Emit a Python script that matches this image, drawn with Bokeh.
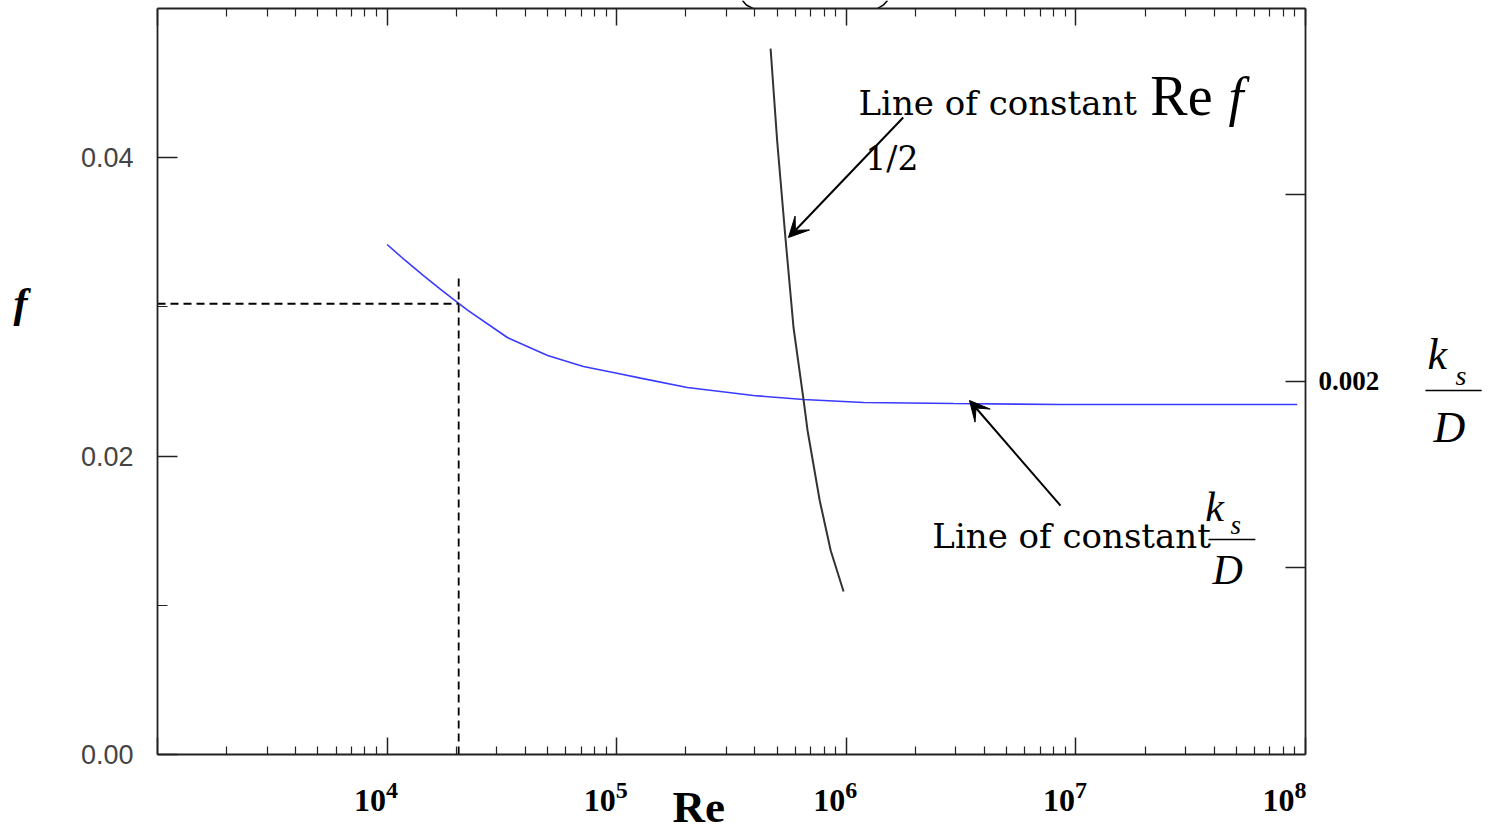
import numpy as np
from bokeh.plotting import figure
from bokeh.models import (Range1d, LogAxis, LinearAxis, FixedTicker, Label, Arrow,
                          VeeHead, CustomJSTickFormatter, NumeralTickFormatter)
from bokeh.embed import file_html
from bokeh.resources import INLINE

# ---- data ----
re_rough = [1.0e4, 1.20e4, 1.44e4, 1.71e4, 2.05e4, 2.24e4, 3.34e4, 5.0e4, 7.16e4, 1.04e5,
            1.27e5, 2.03e5, 3.94e5, 6.51e5, 1.19e6, 2.93e6, 8.6e6, 9.2e7]
f_rough = [0.03417, 0.03310, 0.03209, 0.03116, 0.03022, 0.02978, 0.02794, 0.02673, 0.02600,
           0.02550, 0.02522, 0.02459, 0.02405, 0.02379, 0.02359, 0.02352, 0.02345, 0.02345]

re_const = [4.68e5, 5.0e5, 5.43e5, 5.89e5, 6.51e5, 6.78e5, 7.66e5, 8.55e5, 9.73e5]
f_const = [0.0473, 0.0411, 0.03464, 0.02861, 0.02379, 0.02171, 0.01702, 0.01367, 0.01092]

re_guide = 2.05e4
f_guide = 0.0302
f_guide_top = 0.032

# clipped bracket fragments above the plot box
bracket_left_re = [3.53e5, 3.67e5, 3.94e5]
bracket_right_re = [1.511e6, 1.452e6, 1.367e6]
bracket_f = [0.05052, 0.05022, 0.04998]

x_major = [1e3, 1e4, 1e5, 1e6, 1e7, 1e8]
x_minor = [m * 10 ** e for e in range(3, 8) for m in range(2, 10)]
x_exponents = ["4", "5", "6", "7", "8"]
y_major = [0.0, 0.02, 0.04]
y_minor = [0.01, 0.03]
right_ticks = [0.0125, 0.025, 0.0375]
right_label = "0.002"

RE_MIN, RE_MAX = 1e3, 1e8
F_MIN, F_MAX = 0.0, 0.05

# ---- figure: frame spans the whole canvas; the plot box is drawn by fixed axes ----
p = figure(width=1488, height=840, x_axis_type="log",
           x_range=Range1d(207.1, 6.267e8), y_range=Range1d(-0.005762, 0.05052),
           output_backend="svg", toolbar_location=None,
           min_border_left=0, min_border_right=0,
           min_border_top=0, min_border_bottom=0)
p.xgrid.visible = False
p.ygrid.visible = False
p.outline_line_color = None
p.background_fill_color = "white"
p.border_fill_color = "white"

AX = "#222222"


def style_axis(ax, major_in, minor_in):
    ax.axis_line_color = AX
    ax.axis_line_width = 1.8
    ax.major_tick_line_color = AX
    ax.major_tick_line_width = 1.5
    ax.minor_tick_line_color = AX
    ax.minor_tick_line_width = 1.2
    ax.major_tick_in = major_in
    ax.major_tick_out = 0
    ax.minor_tick_in = minor_in
    ax.minor_tick_out = 0


# bottom axis
xb = p.xaxis[0]
xb.ticker = FixedTicker(ticks=x_major, minor_ticks=x_minor)
xb.formatter = CustomJSTickFormatter(code="return '';")
xb.fixed_location = F_MIN
xb.bounds = (RE_MIN, RE_MAX)
style_axis(xb, 17, 8)
xb.major_label_text_font_size = "1px"
xb.major_label_standoff = 0

# top axis
xt = LogAxis(ticker=FixedTicker(ticks=x_major, minor_ticks=x_minor),
             formatter=CustomJSTickFormatter(code="return '';"),
             fixed_location=F_MAX, bounds=(RE_MIN, RE_MAX))
style_axis(xt, 17, 8)
xt.major_label_text_font_size = "1px"
xt.major_label_standoff = 0
p.add_layout(xt, "above")

# left axis
yl = p.yaxis[0]
yl.ticker = FixedTicker(ticks=y_major, minor_ticks=y_minor)
yl.formatter = NumeralTickFormatter(format="0.00")
yl.fixed_location = RE_MIN
yl.bounds = (F_MIN, F_MAX)
style_axis(yl, 20, 10)
yl.major_label_text_font = "Liberation Sans"
yl.major_label_text_font_size = "27px"
yl.major_label_text_color = "#444444"
yl.major_label_standoff = 24

# right axis
yr = LinearAxis(ticker=FixedTicker(ticks=right_ticks, minor_ticks=[]),
                formatter=CustomJSTickFormatter(
                    code="return Math.abs(tick - 0.025) < 1e-9 ? '%s' : '';" % right_label),
                fixed_location=RE_MAX, bounds=(F_MIN, F_MAX))
style_axis(yr, 20, 0)
yr.major_label_text_font = "Liberation Serif"
yr.major_label_text_font_style = "bold"
yr.major_label_text_font_size = "27px"
yr.major_label_text_color = "black"
yr.major_label_standoff = 13
p.add_layout(yr, "right")

# ---- curves ----
p.line(re_rough, f_rough, line_color="#3a3aff", line_width=1.6)
p.line(re_const, f_const, line_color="#333333", line_width=2)
p.line([RE_MIN, re_guide], [f_guide, f_guide], line_color="black", line_width=1.8, line_dash="8 5")
p.line([re_guide, re_guide], [F_MIN, f_guide_top], line_color="black", line_width=1.8, line_dash="8 5")
p.line(bracket_left_re, bracket_f, line_color="black", line_width=1.5)
p.line(bracket_right_re, bracket_f, line_color="black", line_width=1.5)

# ---- arrows ----
p.add_layout(Arrow(x_start=1.77e6, y_start=0.04268, x_end=5.6e5, y_end=0.03464,
                   line_width=2, line_color="black",
                   end=VeeHead(size=20, fill_color="black", line_color="black")))
p.add_layout(Arrow(x_start=8.57e6, y_start=0.01668, x_end=3.44e6, y_end=0.02372,
                   line_width=2, line_color="black",
                   end=VeeHead(size=20, fill_color="black", line_color="black")))


def lab(x, y, text, size, font="Liberation Serif", style="normal", align="left",
        dx=0, dy=0):
    # small upward correction so that the alphabetic baseline lands where intended
    corr = round(0.3 * size)
    p.add_layout(Label(x=x, y=y, x_offset=dx, y_offset=dy + corr, text=text,
                       text_align=align, text_baseline="alphabetic",
                       text_font=font, text_font_style=style,
                       text_font_size="%dpx" % size, text_color="black"))


# ---- x tick labels 10^n ----
for i, ex in enumerate(x_exponents):
    tick = x_major[i + 1]
    shift = -10 if i == len(x_exponents) - 1 else 0
    lab(tick, F_MIN, "10", 32, style="bold", align="right", dx=-1 + shift, dy=-56)
    lab(tick, F_MIN, ex, 24, style="bold", align="left", dx=-1 + shift, dy=-43)

# axis titles
lab(1.75e5, F_MIN, "Re", 45, style="bold", dy=-66)
lab(236, 0.02935, "f", 42, style="bold italic")

# ---- annotation texts ----
SLAB = "DejaVu Serif"
lab(1.13e6, 0.04295, "Line of constant", 34, font=SLAB)
lab(2.11e7, 0.04295, "Re", 56)
lab(4.62e7, 0.04295, "f", 54, style="italic")
lab(1.21e6, 0.03926, "1/2", 33, font=SLAB)

lab(2.37e6, 0.0140, "Line of constant", 34, font=SLAB)

# fraction k_s / D (lower)
lab(3.66e7, 0.01568, "k", 42, style="italic")
lab(4.71e7, 0.01487, "s", 27, style="italic")
p.add_layout(Arrow(x_start=3.78e7, y_start=0.0144, x_end=6.05e7, y_end=0.0144,
                   line_width=1.5, line_color="black", start=None, end=None))
lab(3.94e7, 0.01146, "D", 42, style="italic")

# fraction k_s / D (right side)
lab(3.40e8, 0.02593, "k", 44, style="italic")
lab(4.5e8, 0.02486, "s", 28, style="italic")
p.add_layout(Arrow(x_start=3.33e8, y_start=0.02439, x_end=5.85e8, y_end=0.02439,
                   line_width=1.5, line_color="black", start=None, end=None))
lab(3.61e8, 0.02104, "D", 44, style="italic")

open("out.html", "w").write(file_html(p, INLINE))
